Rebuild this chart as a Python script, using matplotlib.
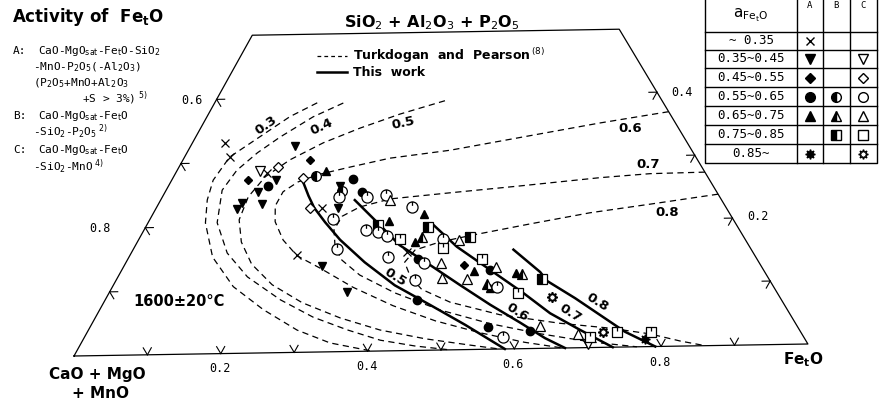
import numpy as np
import matplotlib
matplotlib.use("Agg")
import matplotlib.pyplot as plt
from matplotlib.transforms import Affine2D
from matplotlib.path import Path

# iso-activity curves of Fe_tO, points are (Fe_tO, SiO2+Al2O3+P2O5) fractions
# Turkdogan and Pearson (dashed)
tp_03 = [(0.141, 0.392), (0.114, 0.371), (0.088, 0.340), (0.062, 0.309), (0.057, 0.273),
         (0.064, 0.242), (0.079, 0.206), (0.115, 0.152), (0.166, 0.105), (0.225, 0.068),
         (0.287, 0.035), (0.342, 0.014), (0.406, 0.0)]
tp_04 = [(0.177, 0.391), (0.146, 0.370), (0.116, 0.339), (0.097, 0.315), (0.082, 0.288),
         (0.077, 0.257), (0.095, 0.206), (0.132, 0.158), (0.178, 0.120), (0.241, 0.083),
         (0.299, 0.055), (0.356, 0.034), (0.409, 0.017), (0.461, 0.007), (0.512, 0.0)]
tp_05 = [(0.315, 0.392), (0.263, 0.372), (0.219, 0.351), (0.180, 0.329), (0.147, 0.303),
         (0.126, 0.277), (0.118, 0.246), (0.123, 0.210), (0.143, 0.175), (0.174, 0.140),
         (0.218, 0.107), (0.273, 0.078), (0.337, 0.053), (0.401, 0.033), (0.470, 0.018),
         (0.536, 0.007), (0.580, 0.0)]
tp_06 = [(0.631, 0.369), (0.545, 0.353), (0.450, 0.333), (0.360, 0.314), (0.283, 0.303),
         (0.235, 0.290), (0.197, 0.279), (0.175, 0.268), (0.162, 0.253), (0.162, 0.231),
         (0.174, 0.206), (0.199, 0.177), (0.230, 0.152), (0.271, 0.132), (0.331, 0.101),
         (0.400, 0.071), (0.470, 0.046), (0.541, 0.026), (0.609, 0.010), (0.666, 0.0)]
tp_07 = [(0.727, 0.273), (0.653, 0.272), (0.587, 0.267), (0.483, 0.256), (0.392, 0.247),
         (0.315, 0.239), (0.279, 0.227), (0.262, 0.213), (0.261, 0.192), (0.275, 0.166),
         (0.295, 0.144), (0.331, 0.120), (0.393, 0.091), (0.468, 0.063), (0.548, 0.040),
         (0.624, 0.023), (0.699, 0.009), (0.767, 0.0)]
tp_08 = [(0.762, 0.238), (0.676, 0.224), (0.600, 0.212), (0.526, 0.196), (0.456, 0.180),
         (0.416, 0.170), (0.388, 0.158), (0.383, 0.139), (0.402, 0.116), (0.427, 0.096),
         (0.476, 0.075), (0.554, 0.054), (0.643, 0.039), (0.716, 0.030), (0.775, 0.020),
         (0.822, 0.008), (0.860, 0.0)]

# this work (solid)
tw_05 = [(0.177, 0.274), (0.200, 0.246), (0.217, 0.227), (0.243, 0.204), (0.277, 0.176),
         (0.328, 0.140), (0.387, 0.103), (0.451, 0.071), (0.514, 0.039), (0.587, 0.0)]
tw_06 = [(0.267, 0.238), (0.314, 0.203), (0.363, 0.166), (0.420, 0.134), (0.476, 0.102),
         (0.533, 0.070), (0.588, 0.041), (0.634, 0.016), (0.669, 0.0)]
tw_07 = [(0.394, 0.197), (0.443, 0.162), (0.506, 0.125), (0.569, 0.088), (0.622, 0.055),
         (0.676, 0.028), (0.734, 0.0)]
tw_08 = [(0.523, 0.156), (0.577, 0.120), (0.593, 0.106), (0.645, 0.078), (0.692, 0.051),
         (0.739, 0.024), (0.792, 0.0)]

# measured slags, A / B / C series
a_x = [(0.045, 0.331), (0.062, 0.309), (0.126, 0.283), (0.228, 0.227), (0.229, 0.153), (0.378, 0.155)]
a_tri_dn = [(0.143, 0.325), (0.143, 0.272), (0.128, 0.253), (0.142, 0.234), (0.114, 0.236),
            (0.112, 0.227), (0.236, 0.261), (0.250, 0.226), (0.272, 0.135), (0.326, 0.094)]
a_dia = [(0.105, 0.272), (0.175, 0.302), (0.467, 0.133)]
a_circ = [(0.137, 0.263), (0.248, 0.271), (0.271, 0.251), (0.399, 0.144), (0.506, 0.125),
          (0.547, 0.035), (0.608, 0.028), (0.429, 0.079)]
a_tri_up = [(0.205, 0.285), (0.373, 0.214), (0.330, 0.204), (0.485, 0.123), (0.544, 0.119),
            (0.382, 0.171), (0.520, 0.096)]
a_star = [(0.772, 0.012)]
b_circ = [(0.195, 0.277), (0.242, 0.253)]
b_tri = [(0.388, 0.178), (0.513, 0.103), (0.553, 0.118)]
b_sq = [(0.388, 0.194), (0.454, 0.177), (0.585, 0.109), (0.318, 0.198)]
c_tri_dn = [(0.114, 0.286), (0.698, 0.006)]
c_dia = [(0.136, 0.292), (0.179, 0.274), (0.211, 0.227)]
c_circ = [(0.243, 0.243), (0.281, 0.243), (0.306, 0.245), (0.251, 0.209), (0.279, 0.162),
          (0.351, 0.226), (0.305, 0.191), (0.323, 0.187), (0.339, 0.181), (0.418, 0.175),
          (0.410, 0.137), (0.356, 0.148), (0.411, 0.111), (0.529, 0.098), (0.575, 0.019)]
c_tri_up = [(0.315, 0.237), (0.441, 0.173), (0.434, 0.137), (0.512, 0.129), (0.446, 0.113),
            (0.482, 0.111), (0.618, 0.035), (0.676, 0.022)]
c_sq = [(0.359, 0.176), (0.425, 0.160), (0.487, 0.142), (0.562, 0.088), (0.695, 0.017),
        (0.728, 0.024), (0.775, 0.023)]
c_star = [(0.612, 0.081), (0.709, 0.024)]

# table rows
row_labels = ['~ 0.35', '0.35~0.45', '0.45~0.55', '0.55~0.65', '0.65~0.75', '0.75~0.85', '0.85~']

mono = 'DejaVu Sans Mono'


def tern(pts):
    a = np.asarray(pts, float)
    f, s = a[:, 0], a[:, 1]
    return f + s / 2, s * np.sqrt(3) / 2


# open symbols of series C carry a small stroke at the top
pip = Path([(0, 1), (0, 0.3)], [Path.MOVETO, Path.LINETO])
o_pip = Path.make_compound_path(Path.unit_circle(), pip)
sq = Path([(-1, -1), (1, -1), (1, 1), (-1, 1), (-1, -1)],
          [Path.MOVETO, Path.LINETO, Path.LINETO, Path.LINETO, Path.CLOSEPOLY])
s_pip = Path.make_compound_path(sq, pip)

fig = plt.figure(figsize=(8.88, 4.05), dpi=100)
ax = fig.add_axes([0, 0, 1, 1])
ax.set_xlim(-74 / 734, 814 / 734)
ax.set_ylim(-49 / 734, 356 / 734)
ax.axis('off')
# the scan is slightly rotated
tr = Affine2D().rotate(np.arctan(12 / 734)) + ax.transData

# frame (truncated triangle)
x, y = tern([(0, 0), (1, 0), (0.5, 0.5), (0, 0.5), (0, 0)])
ax.plot(x, y, color='k', lw=0.9, transform=tr)

# ticks
d = 0.011
for v in np.arange(0.1, 0.95, 0.1):
    for seg in ([(v, 0), (v, d)], [(v, 0), (v - d, d)]):
        x, y = tern(seg)
        ax.plot(x, y, color='k', lw=0.8, transform=tr)
for v in np.arange(0.1, 0.45, 0.1):
    for seg in ([(0, v), (d, v)], [(0, v), (d, v - d)],
                [(1 - v, v), (1 - v - d, v)], [(1 - v, v), (1 - v, v - d)]):
        x, y = tern(seg)
        ax.plot(x, y, color='k', lw=0.8, transform=tr)

for c in (tp_03, tp_04, tp_05, tp_06, tp_07, tp_08):
    x, y = tern(c)
    ax.plot(x, y, color='k', lw=0.9, dashes=(5, 3.5), transform=tr)
for c in (tw_05, tw_06, tw_07, tw_08):
    x, y = tern(c)
    ax.plot(x, y, color='k', lw=1.8, transform=tr)


def pts(data, **kw):
    x, y = tern(data)
    ax.plot(x, y, ls='none', color='k', mec='k', transform=tr, zorder=4, **kw)


pts(a_x, marker='x', ms=5.5, mew=0.9)
pts(a_tri_dn, marker='v', ms=5.5)
pts(a_dia, marker='D', ms=4)
pts(a_circ, marker='o', ms=6)
pts(a_tri_up, marker='^', ms=5.5)
pts(a_star, marker=(8, 1, 0), ms=7)
pts(b_circ, marker='o', ms=7, fillstyle='left', mfc='k', mfcalt='white', mew=0.9)
pts(b_tri, marker='^', ms=6.5, fillstyle='left', mfc='k', mfcalt='white', mew=0.9)
pts(b_sq, marker='s', ms=6.5, fillstyle='left', mfc='k', mfcalt='white', mew=0.9)
pts(c_tri_dn, marker='v', ms=6.5, mfc='white', mew=0.9)
pts(c_dia, marker='D', ms=5, mfc='white', mew=0.9)
pts(c_circ, marker=o_pip, ms=8, mfc='white', mew=0.9)
pts(c_tri_up, marker='^', ms=6.5, mfc='white', mew=0.9)
pts(c_sq, marker=s_pip, ms=7, mfc='white', mew=0.9)
pts(c_star, marker=(8, 1, 0), ms=7.5, mfc='white', mew=1.2)

# overlay in pixel units for texts and the symbol table
lay = fig.add_axes([0, 0, 1, 1])
lay.set_xlim(0, 888)
lay.set_ylim(405, 0)
lay.axis('off')
lay.patch.set_visible(False)

lay.text(12, 17, r'Activity of  Fe$_{\mathbf{t}}$O', fontsize=12, fontweight='bold', va='center')
lay.text(432, 23, r'SiO$_2$ + Al$_2$O$_3$ + P$_2$O$_5$', fontsize=11.5, fontweight='bold',
         ha='center', va='center')
lay.text(97, 375, 'CaO + MgO', fontsize=11, fontweight='bold', ha='center', va='center')
lay.text(100, 393, '+ MnO', fontsize=11, fontweight='bold', ha='center', va='center')
lay.text(803, 360, r'Fe$_{\mathbf{t}}$O', fontsize=11, fontweight='bold', ha='center', va='center')
lay.text(179, 302, '1600±20°C', fontsize=10.5, fontweight='bold', ha='center', va='center')

# legend
lay.plot([317, 347], [56, 56], color='k', lw=0.9, dashes=(3, 2.5))
lay.plot([317, 347], [72, 72], color='k', lw=1.8)
lay.text(353, 56, r'Turkdogan  and  Pearson$^{\,(8)}$', fontsize=9, fontweight='bold', va='center')
lay.text(353, 72, 'This  work', fontsize=9, fontweight='bold', va='center')

# source notes
notes = [(13, 51, 'A:'), (38, 51, r'CaO-MgO$_{\rm sat}$-Fe$_{\rm t}$O-SiO$_2$'),
         (33, 67, r'-MnO-P$_2$O$_5$(-Al$_2$O$_3$)'),
         (33, 83, r'(P$_2$O$_5$+MnO+Al$_2$O$_3$'),
         (82, 98, r'+S > 3%)$^{\ 5)}$'),
         (13, 116, 'B:'), (38, 116, r'CaO-MgO$_{\rm sat}$-Fe$_{\rm t}$O'),
         (33, 132, r'-SiO$_2$-P$_2$O$_5$$^{\ 2)}$'),
         (13, 150, 'C:'), (38, 150, r'CaO-MgO$_{\rm sat}$-Fe$_{\rm t}$O'),
         (33, 167, r'-SiO$_2$-MnO$^{\ 4)}$')]
for x0, y0, t in notes:
    lay.text(x0, y0, t, fontsize=8, family=mono, va='center')

# axis numbers
for x0, y0, t in [(220, 368, '0.2'), (367, 367, '0.4'), (513, 365, '0.6'), (660, 363, '0.8'),
                  (192, 100, '0.6'), (100, 228, '0.8'), (682, 93, '0.4'), (758, 217, '0.2')]:
    lay.text(x0, y0, t, fontsize=8.5, family=mono, ha='center', va='center')

# curve labels
for x0, y0, t, r in [(266, 125, '0.3', 35), (322, 127, '0.4', 25), (403, 123, '0.5', 12),
                     (630, 129, '0.6', 0), (648, 165, '0.7', 0), (667, 213, '0.8', 0),
                     (395, 277, '0.5', -32), (517, 312, '0.6', -32), (570, 313, '0.7', -32),
                     (597, 302, '0.8', -32)]:
    lay.text(x0, y0, t, fontsize=9.5, fontweight='bold', ha='center', va='center', rotation=r)

# symbol table
lay.plot([705, 705, 877, 877], [0, 163, 163, 0], color='k', lw=1)
for xv in (797, 823, 850):
    lay.plot([xv, xv], [0, 163], color='k', lw=1)
row_y = [32, 50, 68, 87, 106, 125, 144, 163]
for yv in row_y[:-1]:
    lay.plot([705, 877], [yv, yv], color='k', lw=1)
lay.text(751, 15, r'a$_{\rm Fe_tO}$', fontsize=11, ha='center', va='center')
for xv, t in [(810, 'A'), (836, 'B'), (863, 'C')]:
    lay.text(xv, 6, t, fontsize=6.5, family=mono, ha='center', va='center')
col_x = [810, 836, 863]
for i, t in enumerate(row_labels):
    lay.text(751, (row_y[i] + row_y[i + 1]) / 2, t, fontsize=9, family=mono, ha='center', va='center')

table_marks = [
    (0, 0, dict(marker='x', ms=5.5, mew=1)),
    (1, 0, dict(marker='v', ms=7)), (1, 2, dict(marker='v', ms=7, mfc='white')),
    (2, 0, dict(marker='D', ms=5.5)), (2, 2, dict(marker='D', ms=5.5, mfc='white')),
    (3, 0, dict(marker='o', ms=7)),
    (3, 1, dict(marker='o', ms=7, fillstyle='left', mfc='k', mfcalt='white')),
    (3, 2, dict(marker='o', ms=7, mfc='white')),
    (4, 0, dict(marker='^', ms=7)),
    (4, 1, dict(marker='^', ms=7, fillstyle='left', mfc='k', mfcalt='white')),
    (4, 2, dict(marker='^', ms=7, mfc='white')),
    (5, 1, dict(marker='s', ms=6.5, fillstyle='left', mfc='k', mfcalt='white')),
    (5, 2, dict(marker='s', ms=6.5, mfc='white')),
    (6, 0, dict(marker=(8, 1, 0), ms=7)), (6, 2, dict(marker=(8, 1, 0), ms=7, mfc='white')),
]
for r, c, kw in table_marks:
    lay.plot(col_x[c], (row_y[r] + row_y[r + 1]) / 2, color='k', mec='k', ls='none', **kw)

fig.savefig('out.png', dpi=100)
